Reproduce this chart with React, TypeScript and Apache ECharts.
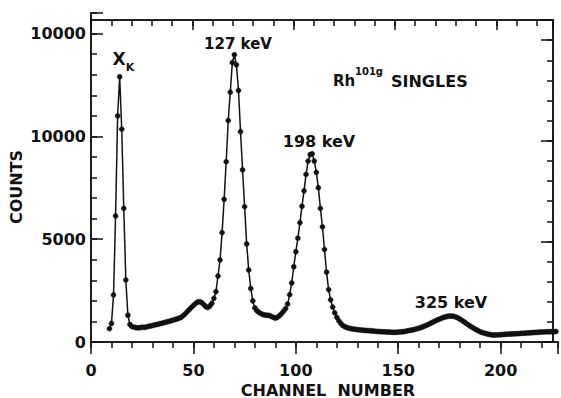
import React, { useEffect, useRef } from "react";
import * as echarts from "echarts";

const firstChannel = 9;
const countsXk = [650, 900, 2290, 6130, 11000, 12900, 10350, 6500, 3020, 1300, 850, 750, 720, 700, 690, 700, 720, 710, 730, 760, 780, 800];
const countsLow = [830, 850, 870, 900, 920, 950, 980, 1000, 1030, 1060, 1090, 1120, 1160, 1200, 1280, 1370, 1480, 1580, 1680, 1780, 1870, 1940, 1960, 1920, 1830, 1720, 1680, 1750, 1880];
const counts127 = [2125, 2450, 3210, 3990, 5320, 6940, 8770, 10770, 12150, 13590, 13970, 13480, 12230, 10230, 8370, 6580, 4770, 3500, 2600, 2000, 1660, 1520, 1440, 1380, 1330, 1310, 1300, 1290, 1250, 1200, 1160];
const counts198 = [1200, 1280, 1380, 1500, 1620, 1850, 2300, 2870, 3660, 4390, 5050, 5800, 6600, 7350, 8150, 8800, 9120, 9150, 8800, 8250, 7500, 6500, 5600, 4500, 3400, 2550, 2050, 1700, 1420, 1200, 1030, 900, 800, 740, 700, 670, 650, 630, 620, 600];
const countsTail = [590, 580, 570, 560, 555, 550, 540, 530, 520, 510, 505, 500, 495, 490, 485, 480, 475, 470, 475, 480, 490, 500, 510, 530, 550, 570, 590, 610, 640, 670, 700, 740, 780, 820, 870, 920, 970, 1020, 1070, 1110, 1150, 1190, 1220, 1245, 1260, 1265, 1250, 1220, 1180, 1120, 1060, 990, 920, 850, 780, 720, 660, 600, 550, 500, 460, 430, 400, 380, 360, 340, 340, 345, 350, 355, 360, 370, 380, 385, 390, 395, 400, 405, 410, 420, 425, 430, 440, 445, 450, 460, 465, 470, 480, 485, 490, 495, 500, 500, 505, 505, 510];

const xTickValues = [0, 50, 100, 150, 200];
const xTickLabels = ["0", "50", "100", "150", "200"];
const yTickValues = [0, 5000, 10000, 15000];
const yTickLabels = ["0", "5000", "10000", "10000"];

const FONT = "DejaVu Sans";
const INK = "#111";

export default function App() {
  const ref = useRef<HTMLDivElement>(null);
  useEffect(() => {
    if (!ref.current) return;
    const chart = echarts.init(ref.current, null, { renderer: "svg" });
    const counts = [...countsXk, ...countsLow, ...counts127, ...counts198, ...countsTail];
    const data = counts.map((c, i) => [firstChannel + i, c]);
    const ls = () => ({ color: INK, width: 1.5 });
    const xFmt = (v: number) => {
      const k = xTickValues.indexOf(v);
      return k >= 0 ? xTickLabels[k] : "";
    };
    const yFmt = (v: number) => {
      const k = yTickValues.indexOf(v);
      return k >= 0 ? yTickLabels[k] : "";
    };
    const blank = () => "";
    const labelStyle = () => ({ color: INK, fontFamily: FONT, fontWeight: "bold", fontSize: 16 });
    const rect = () => ({ left: 91, right: 1, top: 13, bottom: 56, containLabel: false });
    const xAx = (gi: number, pos: string, interval: number, len: number, inside: boolean, labels: boolean) => ({
      type: "value", gridIndex: gi, position: pos, min: 0, max: 228, interval,
      splitLine: { show: false },
      axisLine: { show: true, onZero: false, lineStyle: ls() },
      axisTick: { show: true, inside, length: len, lineStyle: ls() },
      axisLabel: { ...labelStyle(), show: true, margin: 20, formatter: labels ? xFmt : blank },
    });
    const yAx = (gi: number, pos: string, interval: number, len: number, inside: boolean, labels: boolean) => ({
      type: "value", gridIndex: gi, position: pos, min: 0, max: 16000, interval,
      splitLine: { show: false },
      axisLine: { show: true, onZero: false, lineStyle: ls() },
      axisTick: { show: true, inside, length: len, lineStyle: ls() },
      axisLabel: { ...labelStyle(), show: true, margin: 5, formatter: labels ? yFmt : blank },
    });
    const empty = (i: number) => ({ type: "line", xAxisIndex: i, yAxisIndex: i, data: [], silent: true });
    chart.setOption({
      animation: false,
      backgroundColor: "#fff",
      grid: [rect(), rect(), rect(), rect()],
      xAxis: [
        xAx(0, "bottom", 50, 12, false, true),
        xAx(1, "bottom", 10, 6, false, false),
        xAx(2, "top", 50, 10, true, false),
        xAx(3, "top", 10, 6, true, false),
      ],
      yAxis: [
        yAx(0, "left", 5000, 12, true, true),
        yAx(1, "left", 1000, 6, true, false),
        yAx(2, "right", 5000, 12, true, false),
        yAx(3, "right", 1000, 6, true, false),
      ],
      series: [
        {
          type: "line",
          xAxisIndex: 0,
          yAxisIndex: 0,
          data,
          symbol: "circle",
          symbolSize: 5,
          showAllSymbol: true,
          lineStyle: { color: INK, width: 1.5 },
          itemStyle: { color: INK, borderColor: INK, borderWidth: 0.5 },
          z: 5,
        },
        empty(1),
        empty(2),
        empty(3),
      ],
      graphic: [
        { type: "text", x: 16, y: 187, rotation: Math.PI / 2, style: { text: "COUNTS", fill: INK, font: `bold 16px "${FONT}"`, textAlign: "center", textVerticalAlign: "middle" } },
        { type: "text", x: 328, y: 390, style: { text: "CHANNEL  NUMBER", fill: INK, font: `bold 16px "${FONT}"`, textAlign: "center", textVerticalAlign: "middle" } },
        { type: "text", x: 119, y: 59, style: { text: "X", fill: INK, font: `bold 17px "${FONT}"`, textAlign: "center", textVerticalAlign: "middle" } },
        { type: "text", x: 130, y: 67, style: { text: "K", fill: INK, font: `bold 11px "${FONT}"`, textAlign: "center", textVerticalAlign: "middle" } },
        { type: "text", x: 238, y: 44, style: { text: "127 keV", fill: INK, font: `bold 15px "${FONT}"`, textAlign: "center", textVerticalAlign: "middle" } },
        { type: "text", x: 319, y: 141, style: { text: "198 keV", fill: INK, font: `bold 16px "${FONT}"`, textAlign: "center", textVerticalAlign: "middle" } },
        { type: "text", x: 451, y: 302, style: { text: "325 keV", fill: INK, font: `bold 16px "${FONT}"`, textAlign: "center", textVerticalAlign: "middle" } },
        { type: "text", x: 333, y: 81, style: { text: "Rh", fill: INK, font: `bold 15px "${FONT}"`, textAlign: "left", textVerticalAlign: "middle" } },
        { type: "text", x: 355, y: 71, style: { text: "101g", fill: INK, font: `bold 10px "${FONT}"`, textAlign: "left", textVerticalAlign: "middle" } },
        { type: "text", x: 391, y: 81, style: { text: "SINGLES", fill: INK, font: `bold 16px "${FONT}"`, textAlign: "left", textVerticalAlign: "middle" } },
      ],
    });
    return () => chart.dispose();
  }, []);
  return <div ref={ref} style={{ position: "fixed", left: 0, top: 0, width: 561, height: 398 }} />;
}
